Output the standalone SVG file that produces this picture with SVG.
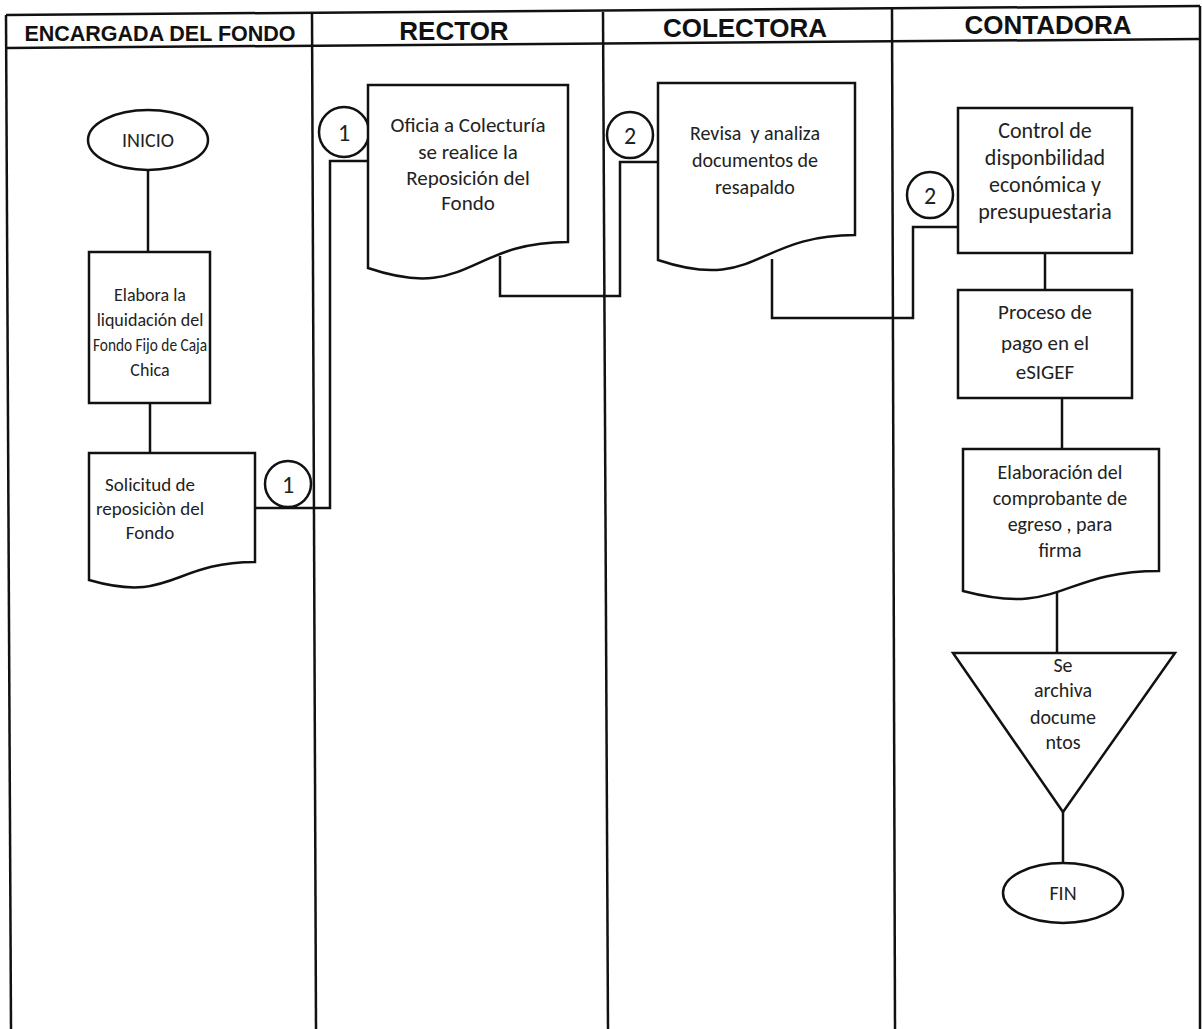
<svg xmlns="http://www.w3.org/2000/svg" width="1202" height="1029" viewBox="0 0 1202 1029">
<style>
.frame{stroke:#111;stroke-width:2.5;fill:none}
.shape{stroke:#111;stroke-width:2.5;fill:#fff}
.edge{stroke:#111;stroke-width:2.5;fill:none}
.hd{font-family:"Liberation Sans",Arial,sans-serif;font-weight:bold;fill:#111;text-anchor:middle}
.t{font-family:Carlito,Lato,"Open Sans",sans-serif;fill:#222;text-anchor:middle}
</style>
<rect width="1202" height="1029" fill="#fff"/>
<g id="lanes">
<line class="frame" x1="6" y1="15" x2="1200" y2="6"/>
<line class="frame" x1="6" y1="48" x2="1200" y2="39"/>
<line class="frame" x1="6" y1="15" x2="11" y2="1029"/>
<line class="frame" x1="312" y1="13" x2="316" y2="1029"/>
<line class="frame" x1="603" y1="12" x2="608" y2="1029"/>
<line class="frame" x1="892" y1="9" x2="895" y2="1029"/>
<line class="frame" x1="1200" y1="6" x2="1200" y2="1029"/>
<text class="hd" x="160" y="41" font-size="21.5">ENCARGADA DEL FONDO</text>
<text class="hd" x="454" y="40" font-size="26">RECTOR</text>
<text class="hd" x="745" y="37" font-size="26">COLECTORA</text>
<text class="hd" x="1048" y="34" font-size="26">CONTADORA</text>
</g>
<g id="connectors">
<line class="edge" x1="148" y1="170" x2="148" y2="252"/>
<line class="edge" x1="150" y1="403" x2="150" y2="453"/>
<polyline class="edge" points="255,508 330,508 330,161 368,161"/>
<polyline class="edge" points="500,256 500,296 620,296 620,162 658,162"/>
<polyline class="edge" points="772,259 772,318 913,318 913,227 958,227"/>
<line class="edge" x1="1045" y1="253" x2="1045" y2="290"/>
<line class="edge" x1="1062" y1="398" x2="1062" y2="449"/>
<line class="edge" x1="1057" y1="592" x2="1057" y2="653"/>
<line class="edge" x1="1063" y1="812" x2="1063" y2="863"/>
</g>
<g id="inicio">
<ellipse class="shape" cx="148" cy="140" rx="60" ry="30"/>
<text class="t" x="148" y="147" font-size="20">INICIO</text>
</g>
<g id="elabora">
<rect class="shape" x="89" y="252" width="121" height="151"/>
<text class="t" font-size="18"><tspan x="150" y="301">Elabora la</tspan><tspan x="150" y="326">liquidación del</tspan><tspan x="150" y="351" textLength="114" lengthAdjust="spacingAndGlyphs">Fondo Fijo de Caja</tspan><tspan x="150" y="376">Chica</tspan></text>
</g>
<g id="solicitud">
<path class="shape" d="M89,453 H255 V562 C172,562 172,604 89,580 Z"/>
<text class="t" font-size="19"><tspan x="150" y="491">Solicitud de</tspan><tspan x="150" y="515">reposiciòn del</tspan><tspan x="150" y="539">Fondo</tspan></text>
</g>
<g id="con1a">
<circle class="shape" cx="288" cy="484" r="23"/>
<text class="t" x="288" y="493" font-size="24">1</text>
</g>
<g id="con1b">
<circle class="shape" cx="344" cy="132" r="25"/>
<text class="t" x="344" y="141" font-size="24">1</text>
</g>
<g id="oficia">
<path class="shape" d="M368,85 H568 V242 C468,242 468,302 368,268 Z"/>
<text class="t" font-size="21"><tspan x="468" y="132">Oficia a Colecturía</tspan><tspan x="468" y="159">se realice la</tspan><tspan x="468" y="185">Reposición del</tspan><tspan x="468" y="210">Fondo</tspan></text>
</g>
<g id="con2a">
<circle class="shape" cx="630" cy="135" r="23"/>
<text class="t" x="630" y="144" font-size="24">2</text>
</g>
<g id="revisa">
<path class="shape" d="M658,83 H855 V235 C756,235 756,293 658,260 Z"/>
<text class="t" font-size="20"><tspan x="755" y="140" xml:space="preserve">Revisa  y analiza</tspan><tspan x="755" y="167">documentos de</tspan><tspan x="755" y="194">resapaldo</tspan></text>
</g>
<g id="con2b">
<circle class="shape" cx="930" cy="195" r="23"/>
<text class="t" x="930" y="204" font-size="24">2</text>
</g>
<g id="control">
<rect class="shape" x="958" y="108" width="174" height="145"/>
<text class="t" font-size="22"><tspan x="1045" y="138">Control de</tspan><tspan x="1045" y="165">disponbilidad</tspan><tspan x="1045" y="192">económica y</tspan><tspan x="1045" y="219">presupuestaria</tspan></text>
</g>
<g id="proceso">
<rect class="shape" x="958" y="290" width="174" height="108"/>
<text class="t" font-size="21"><tspan x="1045" y="319">Proceso de</tspan><tspan x="1045" y="350">pago en el</tspan><tspan x="1045" y="379">eSIGEF</tspan></text>
</g>
<g id="elaboracion">
<path class="shape" d="M963,449 H1159 V571 C1061,571 1061,617 963,591 Z"/>
<text class="t" font-size="20"><tspan x="1060" y="479">Elaboración del</tspan><tspan x="1060" y="505">comprobante de</tspan><tspan x="1060" y="531">egreso , para</tspan><tspan x="1060" y="557">firma</tspan></text>
</g>
<g id="archiva">
<polygon class="shape" points="953,653 1175,653 1063,812"/>
<text class="t" font-size="20"><tspan x="1063" y="672">Se</tspan><tspan x="1063" y="697">archiva</tspan><tspan x="1063" y="724">docume</tspan><tspan x="1063" y="749">ntos</tspan></text>
</g>
<g id="fin">
<ellipse class="shape" cx="1063" cy="893" rx="60" ry="30"/>
<text class="t" x="1063" y="900" font-size="20">FIN</text>
</g>
</svg>
